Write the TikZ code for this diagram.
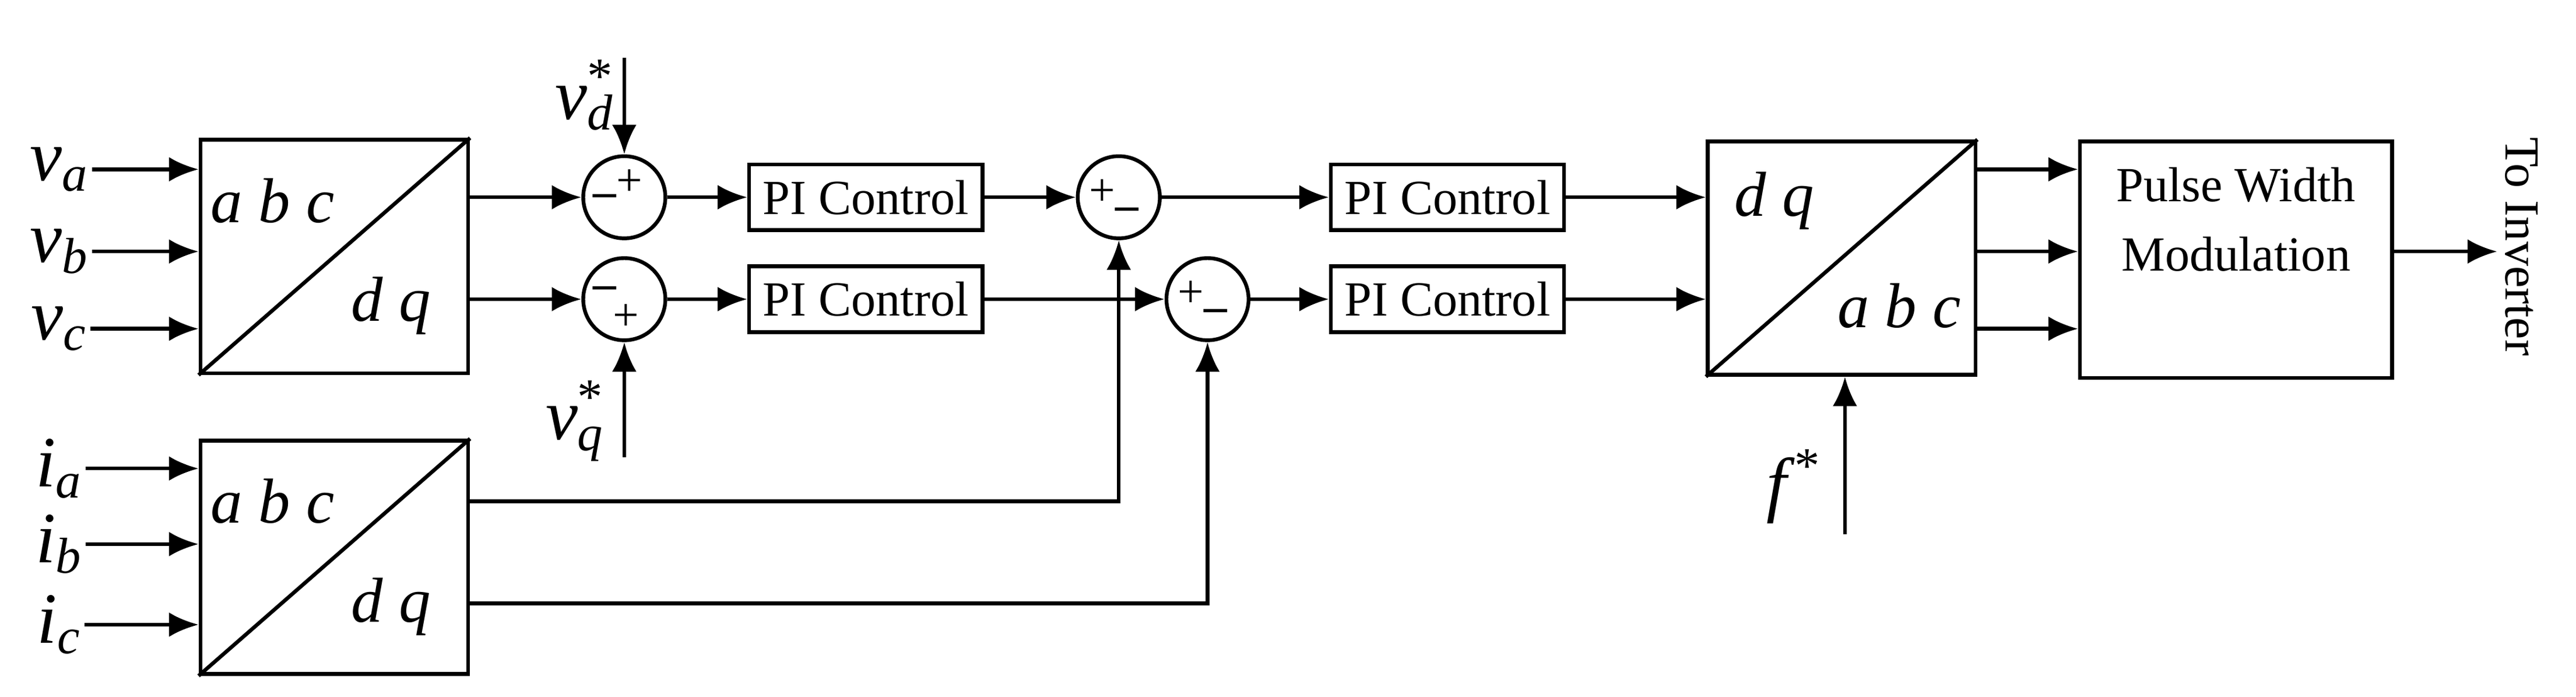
\documentclass[tikz,border=0pt]{standalone}
\usepackage{fontspec}
\setmainfont{Liberation Serif}
\usetikzlibrary{arrows.meta,calc}
\newcommand{\sig}[3][]{\textit{#2}\rlap{\textsuperscript{#1}}\textsubscript{\textit{#3}}}
\tikzset{
  blk/.style={draw, line width=1.3pt, inner sep=0pt},
  conv/.style={blk, minimum width=3.26cm, minimum height=2.84cm},
  pi/.style={blk, minimum width=2.84cm, minimum height=0.8cm, font=\fontsize{17}{20}\selectfont},
  sum/.style={blk, circle, minimum size=1.0cm},
  sgn/.style={inner sep=0pt, font=\fontsize{16}{16}\selectfont},
  lbl/.style={inner sep=1pt, font=\fontsize{25}{25}\selectfont},
  cl/.style={inner sep=0pt, font=\fontsize{22}{22}\selectfont\itshape},
  arr/.style={line width=1.3pt, -{Latex[length=0.36cm, width=0.3cm]}},
  ln/.style={line width=1.3pt}
}
\begin{document}
\begin{tikzpicture}[x=0.02cm, y=-0.02cm]
    \useasboundingbox (0,0) rectangle (1568,424);

    % abc/dq transforms
    \node[cl] at (0,0) {};
    \node[conv] (vabc) at (203.5,156) {};
    \draw[ln] (vabc.south west) -- (vabc.north east);
    \node[cl] at (166,122) {a b c};
    \node[cl] at (238,186) {d q};
    \node[conv] (iabc) at (203.5,339) {};
    \draw[ln] (iabc.south west) -- (iabc.north east);
    \node[cl] at (166,305) {a b c};
    \node[cl] at (238,369) {d q};

    \node[lbl] (va) at (36,103) {\sig{v}{a}};
    \node[lbl] (vb) at (36,153) {\sig{v}{b}};
    \node[lbl] (vc) at (36,200) {\sig{v}{c}};
    \node[lbl] (ia) at (36,285) {\sig{i}{a}};
    \node[lbl] (ib) at (36,331) {\sig{i}{b}};
    \node[lbl] (ic) at (36,380) {\sig{i}{c}};
    \foreach \s/\b in {va/vabc, vb/vabc, vc/vabc, ia/iabc, ib/iabc, ic/iabc}
        \draw[arr] (\s.east) -- (\s.east -| \b.west);

    % voltage loop
    \node[sum] (s1) at (380,120) {};
    \node[sum] (s2) at (380,182) {};
    \node[sgn] at (368,122) {\textbf{--}};
    \node[sgn] at (383,111) {+};
    \node[sgn] at (368,178) {\textbf{--}};
    \node[sgn] at (381,193) {+};
    \draw[arr] (vabc.east |- s1) -- (s1.west);
    \draw[arr] (vabc.east |- s2) -- (s2.west);

    \coordinate (vdin) at (380,35);
    \coordinate (vqin) at (380,278);
    \node[lbl] at (356,58) {\sig[*]{v}{d}};
    \node[lbl] at (350,256) {\sig[*]{v}{q}};
    \draw[arr] (vdin) -- (s1.north);
    \draw[arr] (vqin) -- (s2.south);

    \node[pi] (pi1) at (527,120) {PI Control};
    \node[pi] (pi2) at (527,182) {PI Control};
    \draw[arr] (s1.east) -- (pi1.west);
    \draw[arr] (s2.east) -- (pi2.west);

    % current loop
    \node[sum] (s3) at (681,120) {};
    \node[sum] (s4) at (735,182) {};
    \node[sgn] at (671,117) {+};
    \node[sgn] at (686,130) {\textbf{--}};
    \node[sgn] at (725,179) {+};
    \node[sgn] at (740,192) {\textbf{--}};
    \draw[arr] (pi1.east) -- (s3.west);
    \draw[arr] (pi2.east) -- (s4.west);
    \draw[arr] ($(iabc.east)+(0,-34)$) -| (s3.south);
    \draw[arr] ($(iabc.east)+(0,28)$) -| (s4.south);

    \node[pi] (pi3) at (881,120) {PI Control};
    \node[pi] (pi4) at (881,182) {PI Control};
    \draw[arr] (s3.east) -- (pi3.west);
    \draw[arr] (s4.east) -- (pi4.west);

    % dq/abc and PWM
    \node[conv] (dqabc) at (1121,157) {};
    \draw[ln] (dqabc.south west) -- (dqabc.north east);
    \node[cl] at (1080,122) {d q};
    \node[cl] at (1156,186) {a b c};
    \draw[arr] (pi3.east) -- (pi3.east -| dqabc.west);
    \draw[arr] (pi4.east) -- (pi4.east -| dqabc.west);

    \coordinate (fin) at (1123,325);
    \node[lbl] at (1092,296) {\textit{f}\textsuperscript{*}};
    \draw[arr] (fin) -- (fin |- dqabc.south);

    \node[blk, minimum width=3.8cm, minimum height=2.88cm, align=center,
          font=\fontsize{17}{24}\selectfont] (pwm) at (1361,158) {Pulse Width\\Modulation\\[4pt]};
    \foreach \y in {103,153,200}
        \draw[arr] (dqabc.east |- 0,\y) -- (pwm.west |- 0,\y);

    \coordinate (out) at (1520,153);
    \draw[arr] (pwm.east |- out) -- (out);
    \node[rotate=-90, inner sep=0pt, font=\fontsize{17}{20}\selectfont] at (1535,150) {To Inverter};
\end{tikzpicture}
\end{document}
